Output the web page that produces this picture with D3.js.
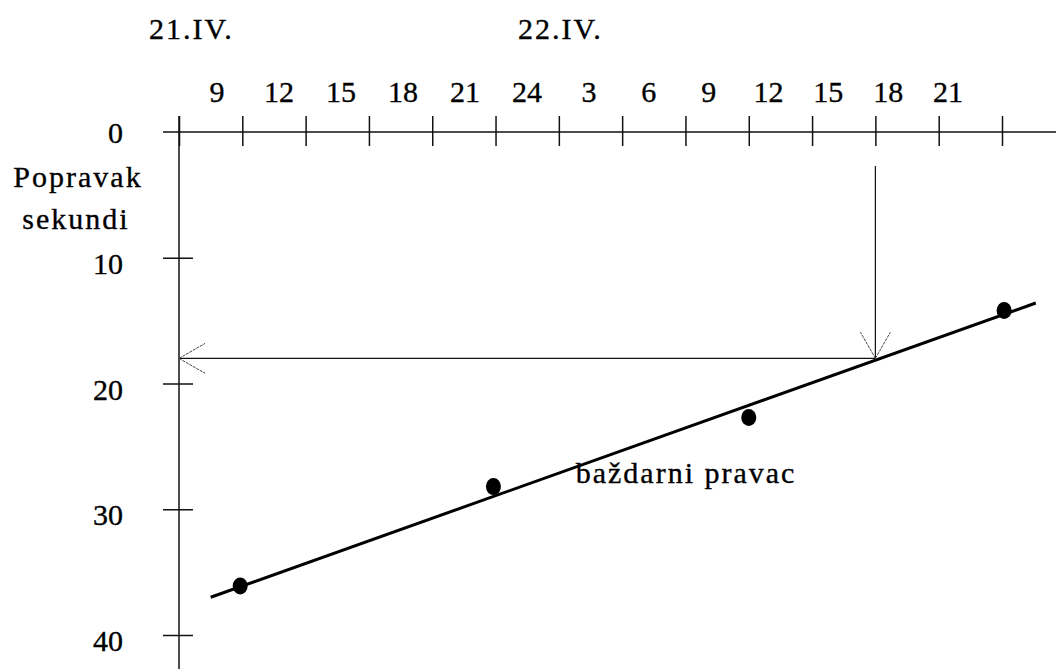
<!DOCTYPE html>
<html>
<head>
<meta charset="utf-8">
<script src="https://cdn.jsdelivr.net/npm/d3@7"></script>
<style>
body { margin: 0; background: #fff; }
svg text { font-family: "Liberation Serif", "Times New Roman", serif; font-size: 30px; fill: #000; stroke: #000; stroke-width: 0.35px; }
.word { letter-spacing: 2px; }
</style>
</head>
<body>
<svg width="1056" height="669"></svg>
<script>
// sati racunati od ponoci 21.IV.
var tickHours = [9, 12, 15, 18, 21, 24, 27, 30, 33, 36, 39, 42, 45, 48];
var labelHours = [9, 12, 15, 18, 21, 24, 27, 30, 33, 36, 39, 42, 45];
var labelText = ["9", "12", "15", "18", "21", "24", "3", "6", "9", "12", "15", "18", "21"];
var dayLabels = ["21.IV.", "22.IV."];
var yTicks = [0, 10, 20, 30, 40];

// mjerenja popravka (s)
var pointHours = [11.9, 23.9, 36.0, 48.1];
var pointValues = [36.1, 28.2, 22.7, 14.2];

// bazdarni pravac
var lineHours = [10.5, 49.6];
var lineValues = [37.0, 13.6];

// ocitanje za 22.IV. u 18 h
var readHour = 42, readValue = 18, readStart = 2.7;

var svg = d3.select("svg"),
    W = +svg.attr("width"), H = +svg.attr("height");

svg.append("rect").attr("width", W).attr("height", H).attr("fill", "#fff");

var x = d3.scaleLinear().domain([9, 48]).range([179, 1002]);
var y = d3.scaleLinear().domain([0, 40]).range([132, 635]);
// natpisi sati nisu tocno iznad crtica
var xl = d3.scaleLinear().domain([9, 27, 45]).range([217, 589, 948]);

// vodoravna os (vrijeme)
svg.append("line")
    .attr("x1", x(9) - 16).attr("x2", W)
    .attr("y1", y(0)).attr("y2", y(0))
    .attr("stroke", "#111").attr("stroke-width", 1.5);

var xAxis = svg.append("g")
    .attr("transform", "translate(0," + y(0) + ")")
    .call(d3.axisTop(x).tickValues(tickHours).tickSize(16).tickFormat(""));
xAxis.select(".domain").remove();
xAxis.selectAll(".tick line")
    .attr("y1", 14)
    .attr("stroke", "#111").attr("stroke-width", 1.5);

// okomita os (popravak)
svg.append("line")
    .attr("x1", x(9)).attr("x2", x(9))
    .attr("y1", y(0) - 16).attr("y2", H)
    .attr("stroke", "#111").attr("stroke-width", 1.5);

var yAxis = svg.append("g")
    .attr("transform", "translate(" + x(9) + ",0)")
    .call(d3.axisLeft(y).tickValues(yTicks.slice(1)).tickSize(16).tickFormat(""));
yAxis.select(".domain").remove();
yAxis.selectAll(".tick line")
    .attr("x1", 14)
    .attr("stroke", "#111").attr("stroke-width", 1.5);

// natpisi sati
svg.append("g").selectAll("text")
    .data(labelHours)
    .enter().append("text")
    .attr("x", function(d) { return xl(d); })
    .attr("y", 102)
    .attr("text-anchor", "middle")
    .text(function(d, i) { return labelText[i]; });

// datumi
svg.append("text").attr("x", 149).attr("y", 39).attr("class", "word").text(dayLabels[0]);
svg.append("text").attr("x", 518).attr("y", 39).attr("class", "word").text(dayLabels[1]);

// natpisi na okomitoj osi
svg.append("g").selectAll("text")
    .data(yTicks)
    .enter().append("text")
    .attr("x", 123)
    .attr("y", function(d) { return d === 0 ? y(d) + 11 : y(d) + 16; })
    .attr("text-anchor", "end")
    .text(function(d) { return d; });

svg.append("text").attr("x", 78).attr("y", 187)
    .attr("text-anchor", "middle").attr("class", "word").text("Popravak");
svg.append("text").attr("x", 76).attr("y", 229)
    .attr("text-anchor", "middle").attr("class", "word").text("sekundi");

// bazdarni pravac
svg.append("line")
    .attr("x1", x(lineHours[0])).attr("y1", y(lineValues[0]))
    .attr("x2", x(lineHours[1])).attr("y2", y(lineValues[1]))
    .attr("stroke", "#000").attr("stroke-width", 3);

svg.append("g").selectAll("ellipse")
    .data(pointHours)
    .enter().append("ellipse")
    .attr("cx", function(d) { return x(d); })
    .attr("cy", function(d, i) { return y(pointValues[i]); })
    .attr("rx", 7.5).attr("ry", 8.5)
    .attr("fill", "#000");

svg.append("text")
    .attr("x", x(27.8)).attr("y", y(27.9))
    .attr("class", "word")
    .text("baždarni pravac");

// strelice ocitanja
var tipX = x(readHour), tipY = y(readValue);
svg.append("line")
    .attr("x1", tipX).attr("x2", tipX)
    .attr("y1", y(readStart)).attr("y2", tipY)
    .attr("stroke", "#111").attr("stroke-width", 1.2);
svg.append("line")
    .attr("x1", tipX).attr("x2", x(9))
    .attr("y1", tipY).attr("y2", tipY)
    .attr("stroke", "#111").attr("stroke-width", 1.2);

function arrowHead(px, py, ang) {
    // ang = smjer iz kojeg strelica dolazi
    [-0.52, 0.52].forEach(function(a) {
        svg.append("line")
            .attr("x1", px).attr("y1", py)
            .attr("x2", px + 30 * Math.cos(ang + a))
            .attr("y2", py + 30 * Math.sin(ang + a))
            .attr("stroke", "#444").attr("stroke-width", 1)
            .attr("stroke-dasharray", "3,1");
    });
}
arrowHead(tipX, tipY, -Math.PI / 2);
arrowHead(x(9), tipY, 0);
</script>
</body>
</html>
